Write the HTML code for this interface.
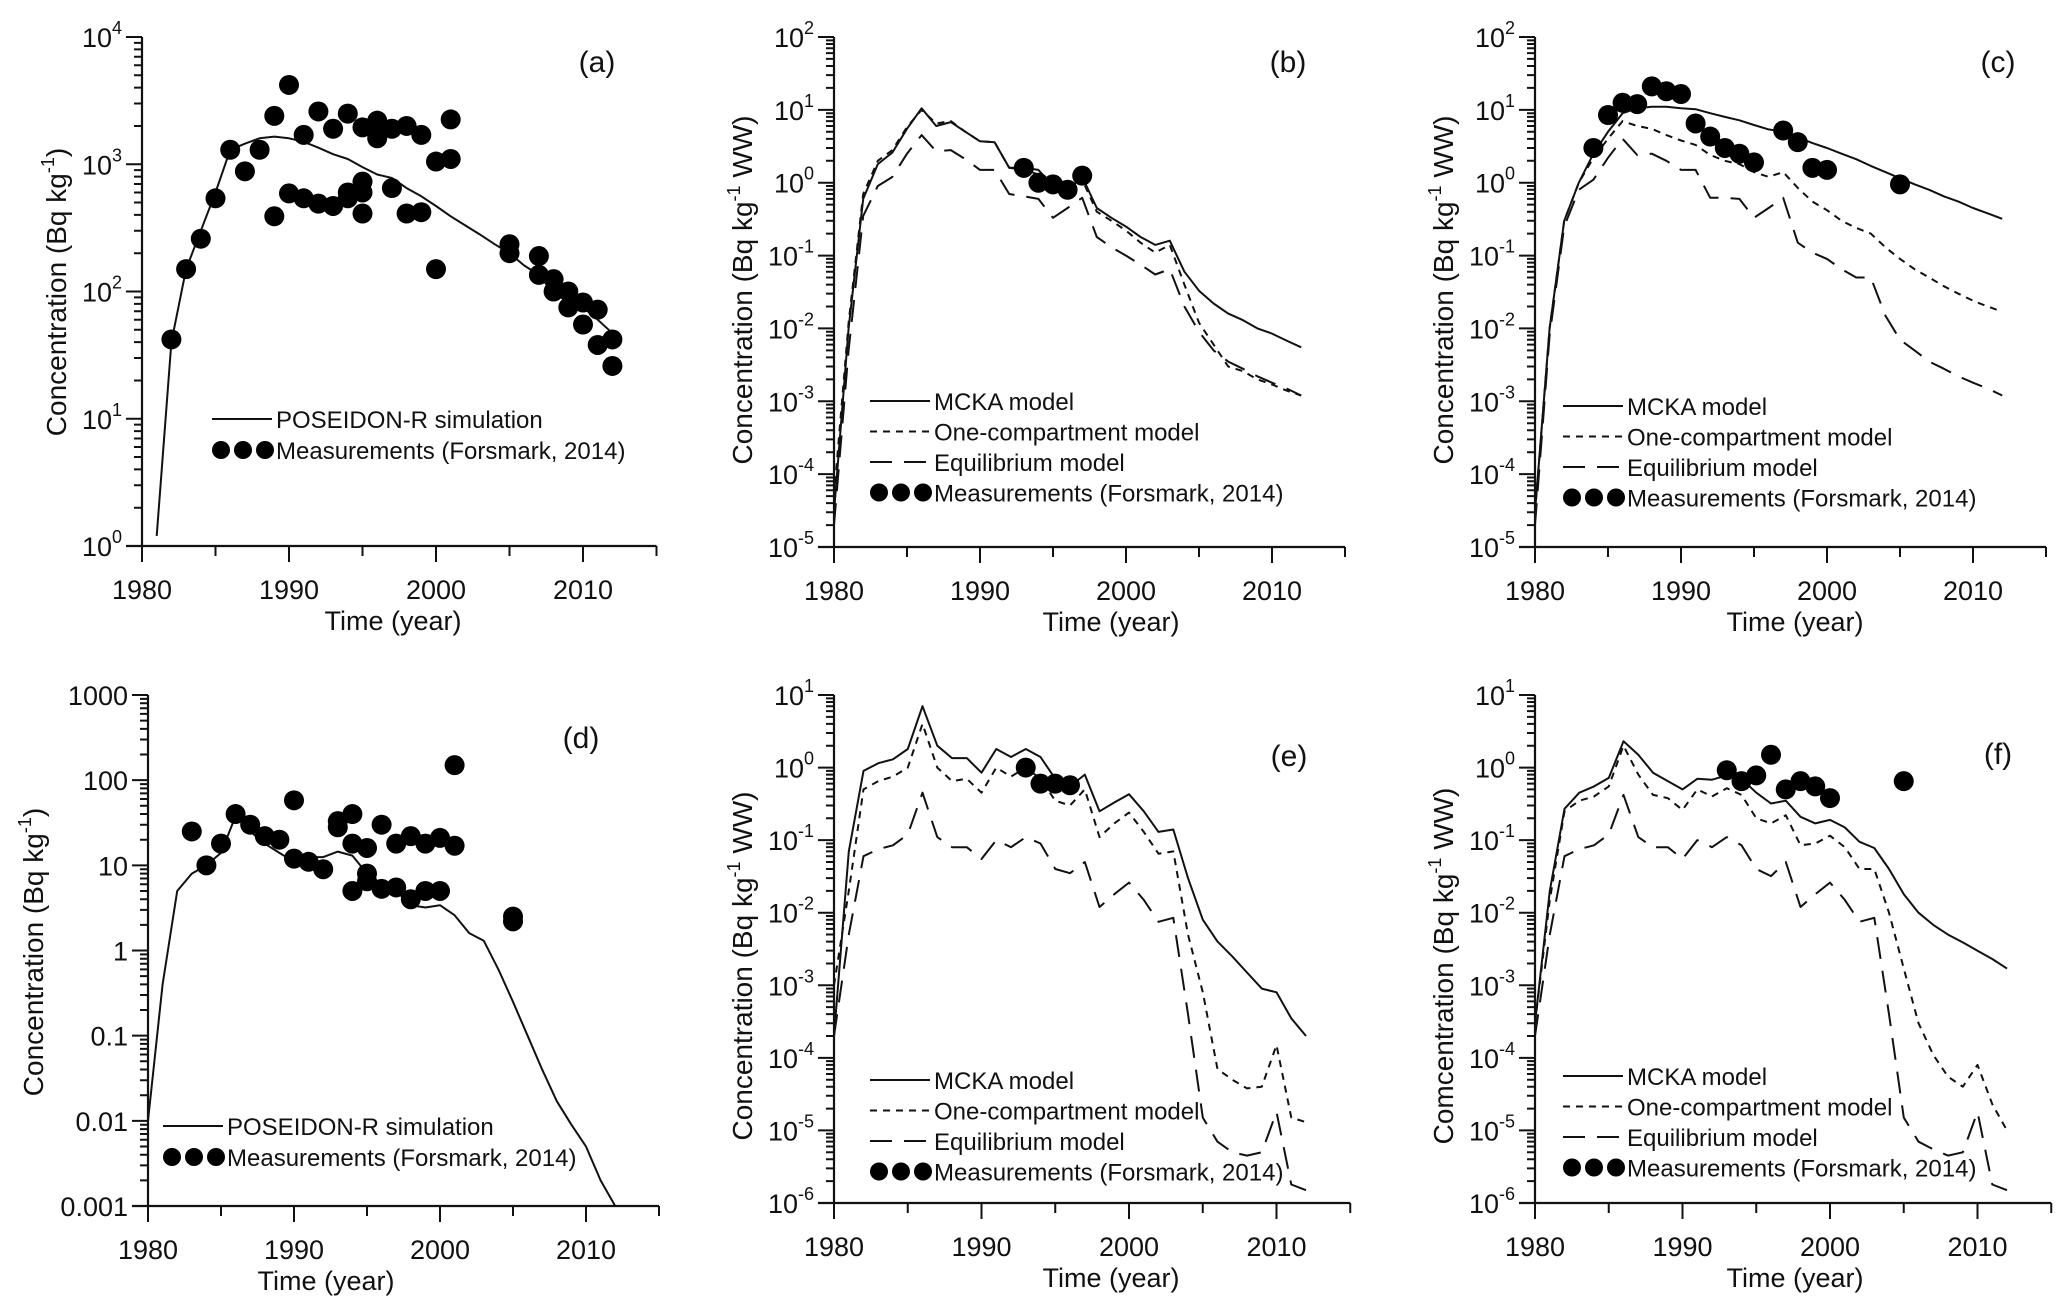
<!DOCTYPE html>
<html><head><meta charset="utf-8"><style>
html,body{margin:0;padding:0;background:#fff}
svg{display:block}
text{font-family:"Liberation Sans",Arial,sans-serif;fill:#111}
</style></head><body>
<svg id="fig" width="2067" height="1314" viewBox="0 0 2067 1314" xmlns="http://www.w3.org/2000/svg"></svg>
<script>
// ---------- DATA ----------
const yrs = [1980,1981,1982,1983,1984,1985,1986,1987,1988,1989,1990,1991,1992,1993,1994,1995,1996,1997,1998,1999,2000,2001,2002,2003,2004,2005,2006,2007,2008,2009,2010,2011,2012];
const aLineYears = yrs.slice(1);
const aLine = [1.2,40,150,300,600,1300,1450,1600,1650,1600,1500,1350,1200,1100,950,830,780,650,560,470,390,330,280,235,200,160,135,115,95,75,60,47];
const aPtsX = [1982,1983,1984,1985,1986,1987,1988,1989,1989,1990,1990,1991,1991,1992,1992,1993,1993,1994,1994,1994,1995,1995,1995,1995,1996,1996,1997,1997,1998,1998,1999,1999,2000,2000,2001,2001,2005,2005,2007,2007,2008,2008,2009,2009,2010,2010,2011,2011,2012,2012];
const aPtsY = [42,150,260,540,1300,880,1300,2400,390,4200,590,1700,540,2600,490,1900,470,2500,600,540,1950,730,600,410,2200,1600,1900,650,2000,410,1700,420,1050,150,2250,1100,235,200,190,135,125,100,100,75,82,55,72,38,42,26];

const bMcka = [3e-5,0.01,0.6,1.8,2.6,5.5,10.5,6,6.8,5,3.7,3.6,1.6,1.6,1.5,0.9,0.8,1.2,0.45,0.33,0.25,0.18,0.14,0.16,0.06,0.033,0.022,0.016,0.013,0.01,0.0085,0.0068,0.0055];
const bOne = [5e-5,0.012,0.7,2,2.8,5.8,10,6.5,7,5,3.7,3.6,1.6,1.5,1.3,0.85,0.8,1.1,0.4,0.3,0.22,0.15,0.11,0.14,0.04,0.012,0.006,0.003,0.0026,0.002,0.0017,0.0014,0.0012];
const bEq = [2e-5,0.005,0.35,0.9,1.2,2.5,4.5,2.7,2.8,2.1,1.5,1.5,0.7,0.65,0.6,0.33,0.45,0.62,0.18,0.13,0.1,0.075,0.055,0.065,0.02,0.009,0.005,0.0035,0.0028,0.0022,0.0018,0.0015,0.0012];
const bPtsX = [1993,1994,1995,1996,1997];
const bPtsY = [1.6,1.0,0.95,0.8,1.25];

const cMcka = [3e-5,0.01,0.3,1,2.5,5,9,10.5,11,11,10.5,10.2,9,8,7.2,6.2,5.4,5,4.2,3.5,3,2.5,2.1,1.7,1.4,1.15,0.95,0.8,0.65,0.55,0.45,0.38,0.32];
const cOne = [3e-5,0.01,0.3,1.0,2.2,4,7,6,5.5,4.5,3.8,3.3,2.4,2,1.8,1.4,1.2,1.4,0.85,0.55,0.42,0.3,0.24,0.2,0.13,0.09,0.065,0.05,0.038,0.03,0.024,0.02,0.017];
const cEq = [2e-5,0.008,0.25,0.8,1.1,2.2,4,2.4,2.5,2.0,1.5,1.5,0.62,0.62,0.6,0.33,0.45,0.62,0.15,0.11,0.09,0.065,0.05,0.05,0.015,0.007,0.005,0.0035,0.0028,0.0022,0.0018,0.0015,0.0012];
const cPtsX = [1984,1985,1986,1987,1988,1989,1990,1991,1992,1993,1994,1995,1997,1998,1999,2000,2005];
const cPtsY = [3,8.5,12.5,12,21,18,16.5,6.5,4.3,3,2.5,1.9,5.2,3.6,1.6,1.5,0.95];

const dLine = [0.01,0.4,5,8,10,14,38,25,18,14,11,12.5,12.5,14.5,13,8,6,5,3.4,3.2,3.4,2.6,1.6,1.3,0.6,0.25,0.1,0.04,0.017,0.009,0.005,0.002,0.001];
const dPtsX = [1983,1984,1985,1986,1987,1988,1989,1990,1990,1991,1992,1993,1993,1994,1994,1994,1995,1995,1995,1996,1996,1997,1997,1998,1998,1999,1999,2000,2000,2001,2001,2005,2005];
const dPtsY = [25,10,18,40,30,22,20,58,12,11,9,33,28,40,18,5,16,8,6.5,30,5.3,18,5.5,22,4,18,5,21,5,150,17,2.5,2.2];

const eMcka = [2e-4,0.07,0.9,1.15,1.3,1.8,7,2,1.35,1.35,0.85,1.8,1.4,1.8,1.4,0.7,0.55,0.8,0.25,0.33,0.43,0.25,0.13,0.14,0.03,0.008,0.004,0.0025,0.0015,0.0009,0.0008,0.00035,0.0002];
const eOne = [1e-3,0.02,0.5,0.65,0.75,1,4,1,0.65,0.7,0.45,1,0.75,1,0.7,0.35,0.3,0.5,0.11,0.17,0.24,0.13,0.065,0.07,0.005,8e-4,7e-5,5e-5,3.8e-5,4e-5,1.5e-4,1.5e-5,1.3e-5];
const eEq = [2e-4,0.005,0.06,0.075,0.085,0.12,0.45,0.11,0.08,0.08,0.055,0.1,0.08,0.11,0.09,0.04,0.035,0.05,0.012,0.018,0.026,0.015,0.0075,0.0085,4e-4,1.5e-5,7e-6,5e-6,4.5e-6,5e-6,1.8e-5,1.8e-6,1.5e-6];
const ePtsX = [1993,1994,1995,1996];
const ePtsY = [1.0,0.6,0.6,0.57];

const fMcka = [3e-4,0.02,0.27,0.45,0.55,0.72,2.3,1.5,0.85,0.65,0.5,0.7,0.68,0.78,0.7,0.45,0.32,0.35,0.21,0.17,0.19,0.15,0.095,0.078,0.04,0.018,0.01,0.0068,0.005,0.0039,0.003,0.0023,0.0017];
const fOne = [3e-4,0.015,0.25,0.35,0.4,0.55,2.0,0.8,0.42,0.38,0.26,0.5,0.4,0.52,0.42,0.2,0.17,0.22,0.085,0.09,0.115,0.08,0.04,0.04,0.01,0.0017,3e-4,1.1e-4,5.5e-5,4e-5,8e-5,2.3e-5,1e-5];
const fEq = [2e-4,0.005,0.06,0.075,0.085,0.12,0.42,0.11,0.08,0.08,0.055,0.1,0.08,0.11,0.085,0.04,0.032,0.05,0.012,0.018,0.026,0.015,0.0075,0.0085,4e-4,1.5e-5,7e-6,5.5e-6,4.5e-6,5e-6,1.8e-5,1.8e-6,1.5e-6];
const fPtsX = [1993,1994,1995,1996,1997,1998,1999,2000,2005];
const fPtsY = [0.92,0.65,0.78,1.5,0.5,0.65,0.55,0.38,0.65];

const xTickYears = [1980,1990,2000,2010];

// ---------- DRAWING ----------
const NS = "http://www.w3.org/2000/svg";
const svg = document.getElementById('fig');
function mk(tag, attrs, parent){
  const e = document.createElementNS(NS, tag);
  for (const k in attrs) e.setAttribute(k, attrs[k]);
  (parent||svg).appendChild(e);
  return e;
}
const DASH = {solid:null, short:"7,6", long:"22,12"};

function panel(cfg){
  const g = mk('g', {});
  
  
  const yr0 = 1980, pxPerYr = cfg.pxPerYr;
  const X = v => cfg.x0 + (v - yr0) * pxPerYr;
  const lmin = cfg.logMin, lmax = cfg.logMax;
  const Y = v => cfg.yBot - (Math.log10(v) - lmin) / (lmax - lmin) * (cfg.yBot - cfg.yTop);
  const xEnd = X(2015);
  const ax = mk('path', {d:`M${cfg.x0},${cfg.yTop} V${cfg.yBot} M${cfg.x0-16},${cfg.yBot} H${xEnd}`, stroke:'#111', 'stroke-width':2.2, fill:'none'}, g);
  
  
  let tk = '';
  for (let d = lmin; d <= lmax; d++){
    tk += `M${cfg.x0-16},${Y(Math.pow(10,d))}H${cfg.x0}`;
    if (d < lmax) for (let m = 2; m <= 9; m++) tk += `M${cfg.x0-8},${Y(m*Math.pow(10,d))}H${cfg.x0}`;
  }
  for (let yv = 1980; yv <= 2015; yv += 5){
    const len = (yv % 10 === 0) ? 16 : 10;
    tk += `M${X(yv)},${cfg.yBot}V${cfg.yBot+len}`;
  }
  const ticks = mk('path', {d:tk, stroke:'#111', 'stroke-width':2, fill:'none'}, g);
  
  
  for (let d = lmin; d <= lmax; d++){
    const t = mk('text', {x:cfg.x0-20, y:Y(Math.pow(10,d))+10, 'text-anchor':'end', 'font-size':27}, g);
    
    
    if (cfg.plainY){
      t.textContent = cfg.plainY[d - lmin];
    } else {
      t.textContent = '10';
      const s = mk('tspan', {dy:-13, 'font-size':18}, t);
      s.textContent = String(d);
    }
  }
  xTickYears.forEach(v => {
    const t = mk('text', {x:X(v), y:cfg.yBot+53, 'text-anchor':'middle', 'font-size':27}, g);
    
    
    t.textContent = String(v);
  });
  const xt = mk('text', {x:cfg.xTitleX, y:cfg.yBot+84, 'text-anchor':'middle', 'font-size':27}, g);
  
  
  xt.textContent = 'Time (year)';
  const yt = mk('text', {x:0, y:0, 'text-anchor':'middle', 'font-size':28, transform:`translate(${cfg.yTitleX},${cfg.yTitleY}) rotate(-90)`}, g);
  
  
  yt.textContent = cfg.yTitle[0];
  const sup = mk('tspan', {dy:-12, 'font-size':18}, yt); sup.textContent = '-1';
  const rest = mk('tspan', {dy:12}, yt); rest.textContent = cfg.yTitle[1];
  const pl = mk('text', {x:cfg.labelX, y:cfg.labelY, 'text-anchor':'middle', 'font-size':30}, g);
  
  
  pl.textContent = '(' + cfg.id + ')';
  cfg.series.forEach(s => {
    let d = '';
    s.y.forEach((v, i) => { d += (i ? 'L' : 'M') + X(s.x[i]).toFixed(1) + ',' + Y(v).toFixed(1); });
    const p = mk('path', {d:d, stroke:'#111', 'stroke-width':2, fill:'none', 'stroke-linejoin':'round'}, g);
    if (DASH[s.style]) p.setAttribute('stroke-dasharray', DASH[s.style]);
    
    
  });
  cfg.ptsX.forEach((xv, i) => {
    const c = mk('circle', {cx:X(xv), cy:Y(cfg.ptsY[i]), r:10, fill:'#000'}, g);
    
    
  });
  const lg = mk('g', {}, g);
  
  
  cfg.legend.rows.forEach((r, i) => {
    const y = cfg.legend.y0 + i * cfg.legend.dy;
    const lx = cfg.legend.x;
    if (r.style === 'dots'){
      [9, 31, 53].forEach(o => {
        const c = mk('circle', {cx:lx+o, cy:y, r:9, fill:'#000'}, lg);
        
        
      });
    } else {
      const l = mk('line', {x1:lx, x2:lx+60, y1:y, y2:y, stroke:'#111', 'stroke-width':2}, lg);
      if (DASH[r.style]) l.setAttribute('stroke-dasharray', DASH[r.style]);
      
      
    }
    const t = mk('text', {x:lx+64, y:y+9, 'font-size':24}, lg);
    
    
    t.textContent = r.label;
  });
}

const L3 = (y0, dy, x) => ({x:x, y0:y0, dy:dy, rows:[
  {style:'solid', label:'MCKA model'},
  {style:'short', label:'One-compartment model'},
  {style:'long', label:'Equilibrium model'},
  {style:'dots', label:'Measurements (Forsmark, 2014)'}]});
const L1 = (y0, dy, x) => ({x:x, y0:y0, dy:dy, rows:[
  {style:'solid', label:'POSEIDON-R simulation'},
  {style:'dots', label:'Measurements (Forsmark, 2014)'}]});
const models = (m, o, e) => [
  {name:'mcka-line', style:'solid', x:yrs, y:m},
  {name:'one-compartment-line', style:'short', x:yrs, y:o},
  {name:'equilibrium-line', style:'long', x:yrs, y:e}];

panel({id:'a', x0:142, pxPerYr:14.7, yTop:37, yBot:546, logMin:0, logMax:4,
  yTitle:['Concentration (Bq kg',')'], yTitleX:66, yTitleY:292, xTitleX:393, labelX:597, labelY:72,
  series:[{name:'poseidon-line', style:'solid', x:aLineYears, y:aLine}], ptsX:aPtsX, ptsY:aPtsY,
  legend:L1(419, 31, 212)});
panel({id:'b', x0:834, pxPerYr:14.6, yTop:37, yBot:547, logMin:-5, logMax:2,
  yTitle:['Concentration (Bq kg',' WW)'], yTitleX:752, yTitleY:290, xTitleX:1111, labelX:1288, labelY:72,
  series:models(bMcka,bOne,bEq), ptsX:bPtsX, ptsY:bPtsY, legend:L3(401, 30.5, 870)});
panel({id:'c', x0:1535, pxPerYr:14.6, yTop:37, yBot:547, logMin:-5, logMax:2,
  yTitle:['Concentration (Bq kg','  WW)'], yTitleX:1453, yTitleY:290, xTitleX:1795, labelX:1998, labelY:72,
  series:models(cMcka,cOne,cEq), ptsX:cPtsX, ptsY:cPtsY, legend:L3(406, 30.5, 1563)});
panel({id:'d', x0:148, pxPerYr:14.6, yTop:695, yBot:1206, logMin:-3, logMax:3,
  plainY:['0.001','0.01','0.1','1','10','100','1000'],
  yTitle:['Concentration (Bq kg',')'], yTitleX:43, yTitleY:952, xTitleX:326, labelX:581, labelY:748,
  series:[{name:'poseidon-line', style:'solid', x:yrs, y:dLine}], ptsX:dPtsX, ptsY:dPtsY,
  legend:L1(1126, 31, 163)});
panel({id:'e', x0:834, pxPerYr:14.75, yTop:695, yBot:1203, logMin:-6, logMax:1,
  yTitle:['Concentration  (Bq kg','  WW)'], yTitleX:752, yTitleY:966, xTitleX:1111, labelX:1289, labelY:766,
  series:models(eMcka,eOne,eEq), ptsX:ePtsX, ptsY:ePtsY, legend:L3(1080, 30.5, 870)});
panel({id:'f', x0:1535, pxPerYr:14.75, yTop:695, yBot:1203, logMin:-6, logMax:1,
  yTitle:['Comcentration  (Bq kg','  WW)'], yTitleX:1453, yTitleY:966, xTitleX:1795, labelX:1998, labelY:764,
  series:models(fMcka,fOne,fEq), ptsX:fPtsX, ptsY:fPtsY, legend:L3(1076, 30.5, 1563)});
</script>
</body></html>
